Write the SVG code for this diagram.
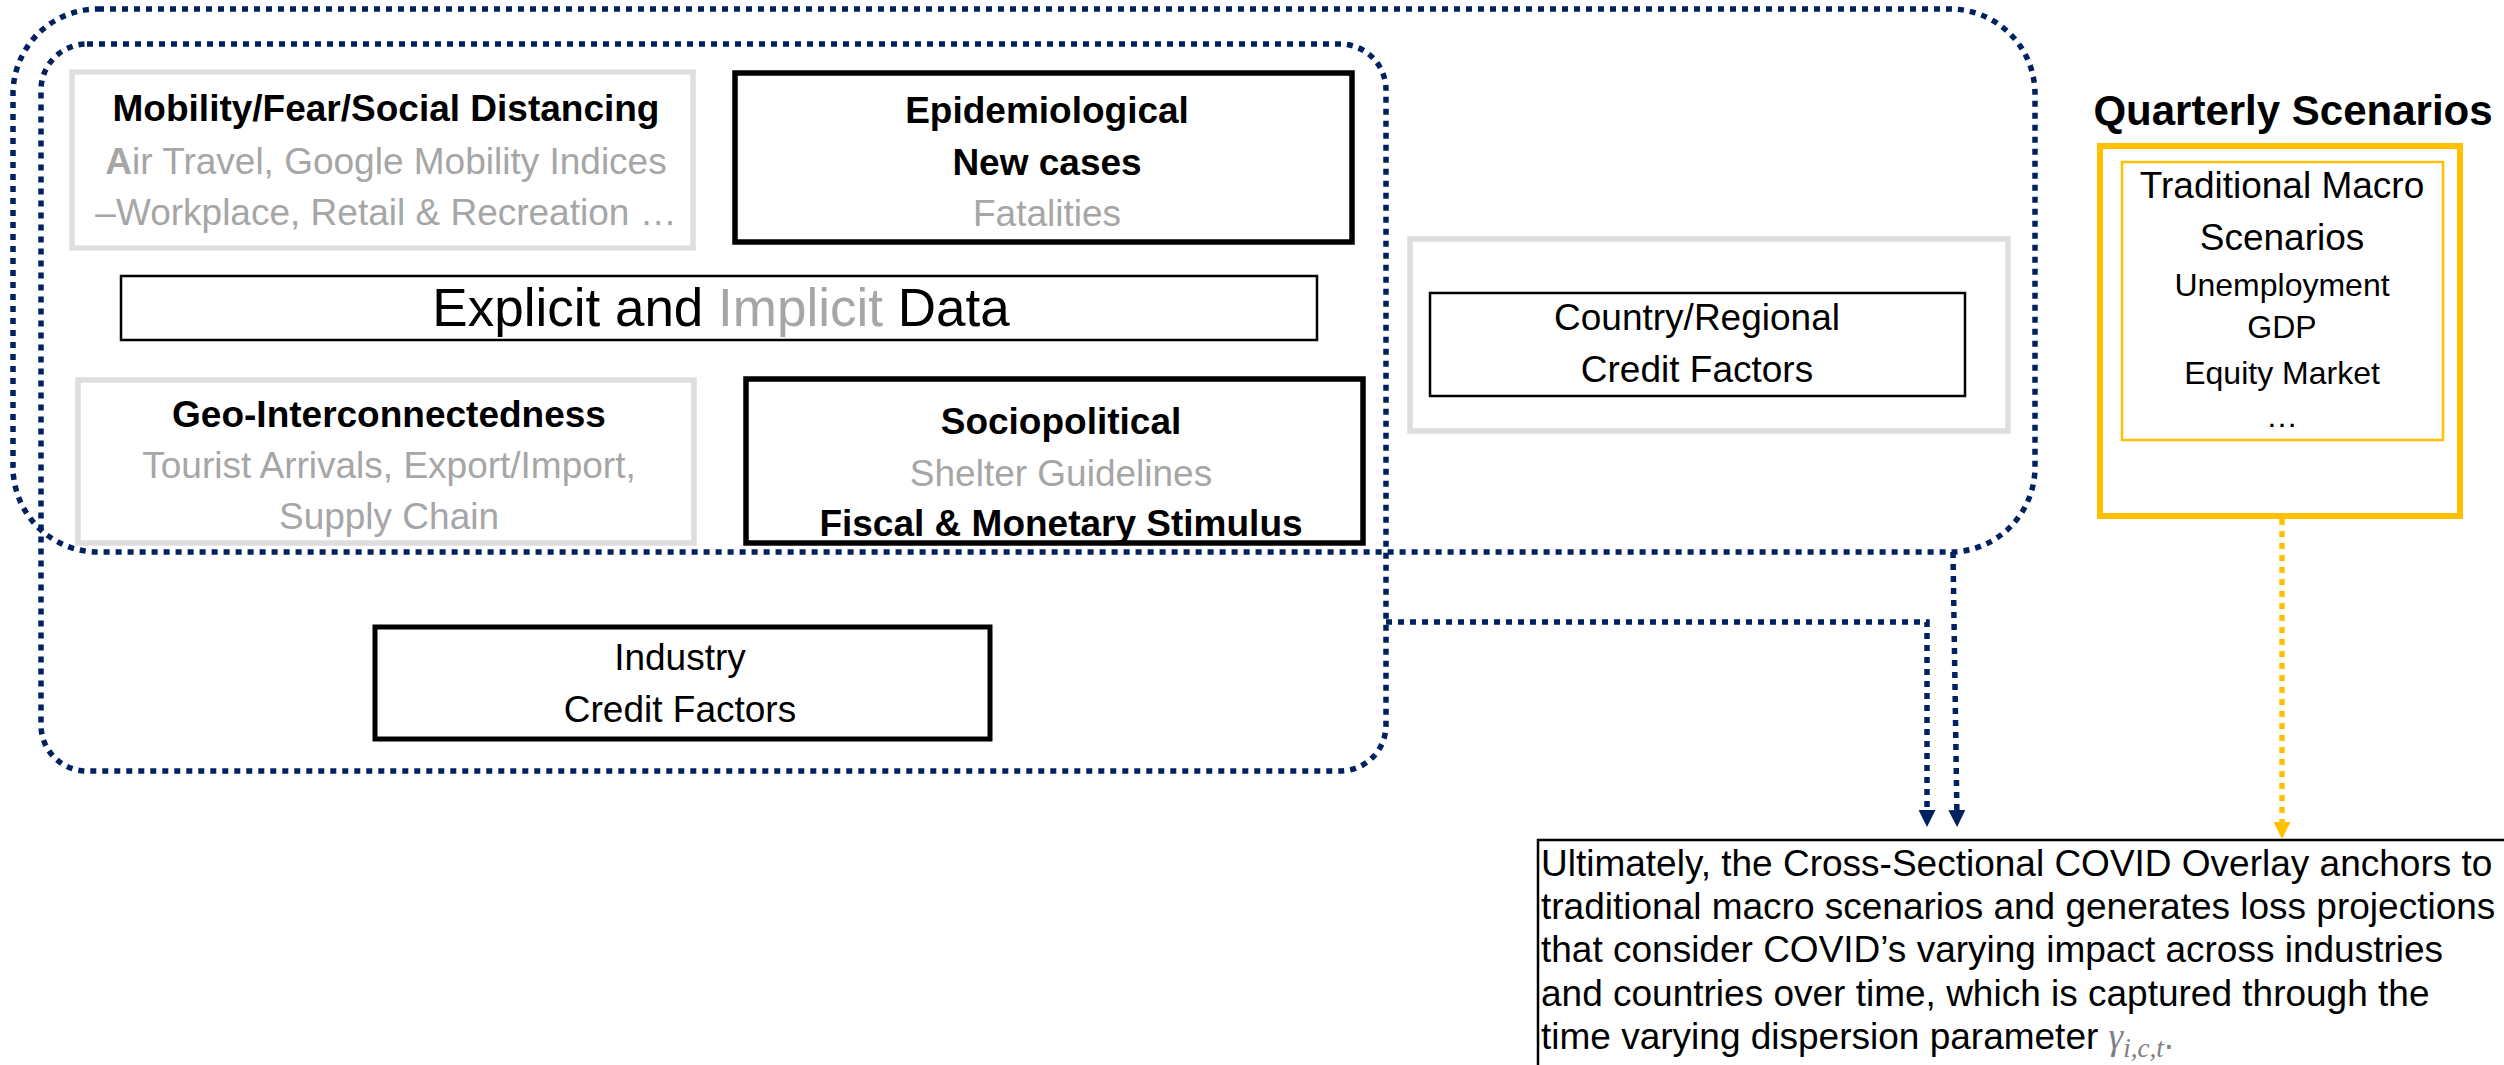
<svg xmlns="http://www.w3.org/2000/svg" width="2504" height="1065" viewBox="0 0 2504 1065">
<style>
text{font-family:"Liberation Sans",Arial,sans-serif;font-size:37px;fill:#000}
.b{font-weight:bold}
.g{fill:#A6A6A6}
.c{text-anchor:middle}
.dot{fill:none;stroke:#002060;stroke-width:5.5;stroke-dasharray:6 6}
.ydot{fill:none;stroke:#FFC000;stroke-width:5.5;stroke-dasharray:6 6}
.gbox{fill:#fff;stroke:#DEDEDE;stroke-width:5.5}
.kbox{fill:#fff;stroke:#000;stroke-width:5.5}
.thin{fill:#fff;stroke:#000;stroke-width:2.5}
.q{font-size:32px}
.math{font-family:"Liberation Serif","DejaVu Serif",serif;font-style:italic;fill:#808080}
</style>
<defs>
<marker id="an" markerUnits="userSpaceOnUse" markerWidth="17" markerHeight="17" viewBox="0 0 17 17" refX="9" refY="8.5" orient="auto"><path d="M0,0 L17,8.5 L0,17 z" fill="#002060"/></marker>
<marker id="ay" markerUnits="userSpaceOnUse" markerWidth="17" markerHeight="17" viewBox="0 0 17 17" refX="9" refY="8.5" orient="auto"><path d="M0,0 L17,8.5 L0,17 z" fill="#FFC000"/></marker>
</defs>
<rect width="2504" height="1065" fill="#fff"/>
<g id="containers">
<rect class="dot" x="13" y="9" width="2022" height="543" rx="85"/>
<rect class="dot" x="41" y="44" width="1345" height="727" rx="46"/>
</g>
<g id="mobility">
<rect class="gbox" x="72" y="72" width="621" height="176"/>
<text class="c b" x="386" y="121">Mobility/Fear/Social Distancing</text>
<text class="c g" x="386" y="174"><tspan class="b">A</tspan>ir Travel, Google Mobility Indices</text>
<text class="c g" x="386" y="225">–Workplace, Retail &amp; Recreation …</text>
</g>
<g id="epidemiological">
<rect class="kbox" x="735" y="73" width="617" height="169"/>
<text class="c b" x="1047" y="123">Epidemiological</text>
<text class="c b" x="1047" y="175">New cases</text>
<text class="c g" x="1047" y="226">Fatalities</text>
</g>
<g id="explicit-implicit">
<rect class="thin" x="121" y="276" width="1196" height="64"/>
<text class="c" x="721" y="326" style="font-size:53px">Explicit and <tspan class="g">Implicit</tspan> Data</text>
</g>
<g id="geo">
<rect class="gbox" x="78" y="380" width="616" height="163"/>
<text class="c b" x="389" y="427">Geo-Interconnectedness</text>
<text class="c g" x="389" y="478">Tourist Arrivals, Export/Import,</text>
<text class="c g" x="389" y="529">Supply Chain</text>
</g>
<g id="sociopolitical">
<rect class="kbox" x="746" y="379" width="617" height="164"/>
<text class="c b" x="1061" y="434">Sociopolitical</text>
<text class="c g" x="1061" y="486">Shelter Guidelines</text>
<text class="c b" x="1061" y="536">Fiscal &amp; Monetary Stimulus</text>
</g>
<g id="country">
<rect class="gbox" x="1410" y="239" width="598" height="192"/>
<rect class="thin" x="1430" y="293" width="535" height="103"/>
<text class="c" x="1697" y="330">Country/Regional</text>
<text class="c" x="1697" y="382">Credit Factors</text>
</g>
<g id="industry">
<rect class="thin" x="375" y="627" width="615" height="112" style="stroke-width:5"/>
<text class="c" x="680" y="670">Industry</text>
<text class="c" x="680" y="722">Credit Factors</text>
</g>
<g id="quarterly">
<text class="c b" x="2293" y="125" style="font-size:42px">Quarterly Scenarios</text>
<rect x="2100" y="146" width="360" height="370" fill="#fff" stroke="#FFC000" stroke-width="6"/>
<rect x="2122" y="162" width="321" height="278" fill="none" stroke="#FFC000" stroke-width="2.5"/>
<text class="c" x="2282" y="198">Traditional Macro</text>
<text class="c" x="2282" y="250">Scenarios</text>
<text class="c q" x="2282" y="296">Unemployment</text>
<text class="c q" x="2282" y="338">GDP</text>
<text class="c q" x="2282" y="384">Equity Market</text>
<text class="c q" x="2282" y="427">…</text>
</g>
<g id="conclusion">
<rect class="thin" x="1538" y="840" width="1000" height="300"/>
<text x="1541" y="876">Ultimately, the Cross-Sectional COVID Overlay anchors to</text>
<text x="1541" y="919">traditional macro scenarios and generates loss projections</text>
<text x="1541" y="962">that consider COVID’s varying impact across industries</text>
<text x="1541" y="1006">and countries over time, which is captured through the</text>
<text x="1541" y="1049">time varying dispersion parameter <tspan class="math">γ</tspan><tspan class="math" dy="8" style="font-size:27px">i,c,t</tspan><tspan dy="-8" fill="#808080">.</tspan></text>
</g>
<g id="connectors">
<path class="dot" d="M1386,622 H1927 V819" marker-end="url(#an)"/>
<path class="dot" d="M1953,552 L1957,819" marker-end="url(#an)"/>
<path class="ydot" d="M2282,519 V831" marker-end="url(#ay)"/>
</g>
</svg>
